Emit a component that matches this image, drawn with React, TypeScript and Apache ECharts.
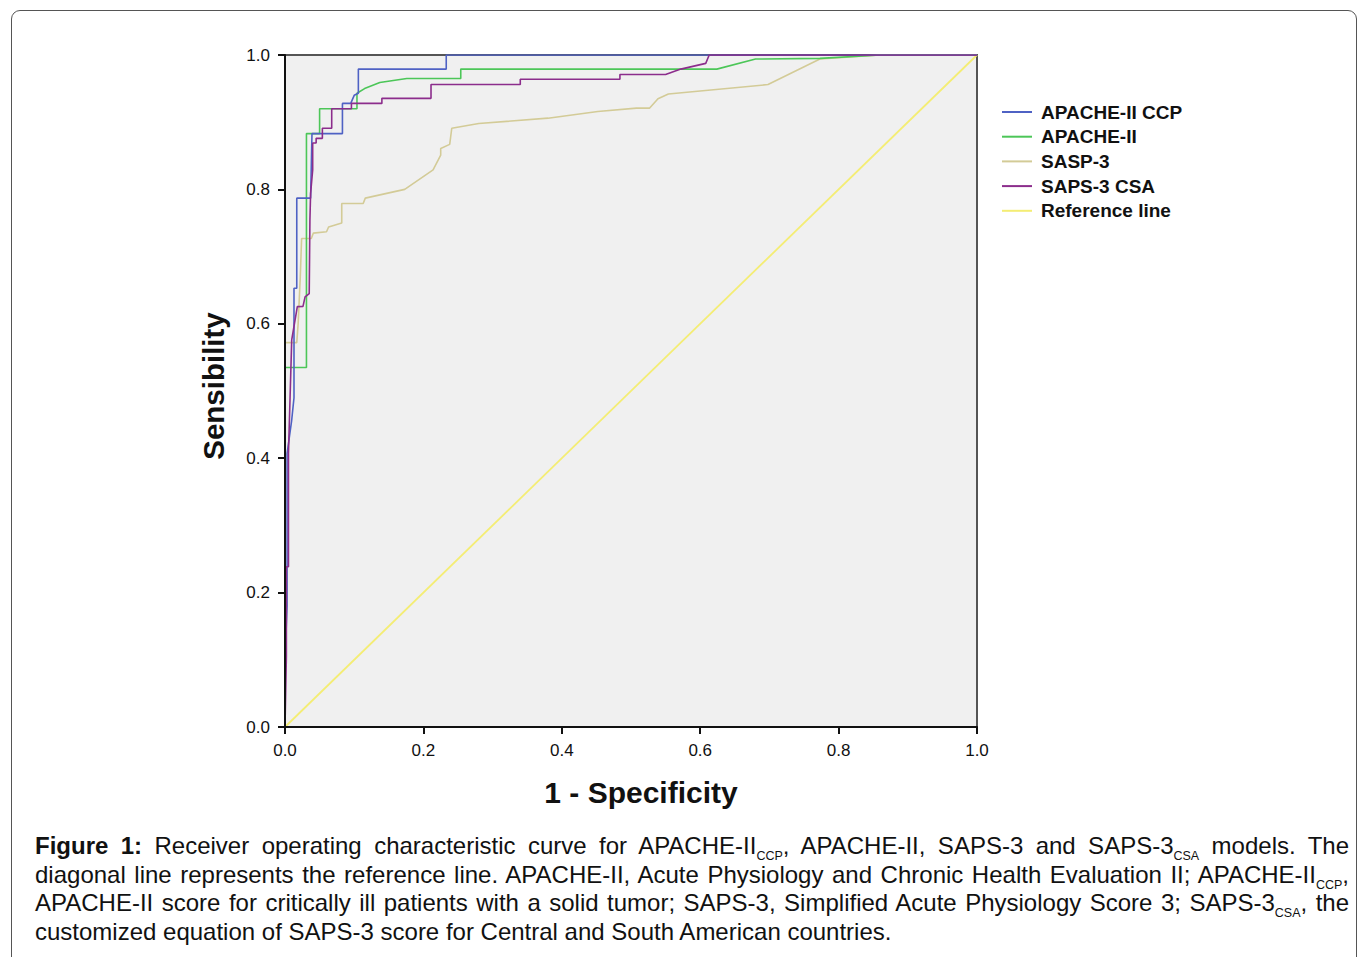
import React, { useEffect, useRef } from "react";
import * as echarts from "echarts";

const seriesNames = ["APACHE-II CCP", "APACHE-II", "SASP-3", "SAPS-3 CSA", "Reference line"];
const seriesColors = ["#4f62c4", "#4cc658", "#d3cb97", "#8c2d8c", "#f4ed74"];

const apacheCcpX = [0, 0, 0.003, 0.003, 0.0095, 0.013, 0.013, 0.017, 0.017, 0.037, 0.039, 0.083, 0.083, 0.095, 0.1, 0.106, 0.106, 0.233, 0.233, 1];
const apacheCcpY = [0, 0.1, 0.18, 0.407, 0.455, 0.49, 0.653, 0.653, 0.787, 0.787, 0.883, 0.883, 0.928, 0.928, 0.94, 0.943, 0.979, 0.979, 1, 1];

const apacheX = [0, 0, 0.031, 0.031, 0.05, 0.05, 0.104, 0.104, 0.115, 0.137, 0.176, 0.254, 0.254, 0.624, 0.68, 0.773, 0.86, 1];
const apacheY = [0, 0.535, 0.535, 0.883, 0.883, 0.92, 0.92, 0.943, 0.95, 0.959, 0.965, 0.965, 0.979, 0.979, 0.994, 0.995, 1, 1];

const saps3X = [0, 0, 0.017, 0.019, 0.022, 0.024, 0.038, 0.041, 0.06, 0.063, 0.082, 0.082, 0.113, 0.116, 0.173, 0.214, 0.225, 0.225, 0.238, 0.241, 0.28, 0.38, 0.452, 0.508, 0.527, 0.539, 0.554, 0.698, 0.773, 0.86, 1];
const saps3Y = [0, 0.572, 0.572, 0.6, 0.668, 0.727, 0.727, 0.735, 0.737, 0.744, 0.75, 0.779, 0.779, 0.787, 0.8, 0.829, 0.851, 0.861, 0.867, 0.891, 0.898, 0.906, 0.916, 0.921, 0.921, 0.935, 0.942, 0.956, 0.994, 1, 1];

const saps3CsaX = [0, 0.002, 0.002, 0.005, 0.005, 0.0097, 0.0178, 0.026, 0.029, 0.035, 0.036, 0.037, 0.04, 0.04, 0.045, 0.045, 0.054, 0.054, 0.0675, 0.0675, 0.096, 0.096, 0.14, 0.14, 0.211, 0.211, 0.34, 0.34, 0.484, 0.484, 0.55, 0.572, 0.608, 0.613, 1];
const saps3CsaY = [0, 0.105, 0.2385, 0.2385, 0.407, 0.576, 0.6255, 0.626, 0.64, 0.645, 0.754, 0.794, 0.829, 0.869, 0.869, 0.876, 0.876, 0.891, 0.891, 0.92, 0.92, 0.928, 0.928, 0.9355, 0.9355, 0.956, 0.956, 0.964, 0.964, 0.971, 0.971, 0.979, 0.9875, 1, 1];

const refX = [0, 1];
const refY = [0, 1];

const allX = [apacheCcpX, apacheX, saps3X, saps3CsaX, refX];
const allY = [apacheCcpY, apacheY, saps3Y, saps3CsaY, refY];

const FONT = "'Liberation Sans', Arial, Helvetica, sans-serif";

export default function App() {
  const ref = useRef<HTMLDivElement>(null);
  useEffect(() => {
    if (!ref.current) return;
    const chart = echarts.init(ref.current, undefined, { renderer: "svg" });
    const order = [4, 2, 1, 0, 3];
    const series = order.map((i) => ({
      name: seriesNames[i],
      type: "line",
      data: allX[i].map((x, k) => [x, allY[i][k]]),
      showSymbol: false,
      symbol: "none",
      color: seriesColors[i],
      lineStyle: { width: i === 4 ? 1.8 : 1.6, color: seriesColors[i] },
      z: 2 + order.indexOf(i),
    }));
    const axisCommon = {
      type: "value",
      min: 0,
      max: 1,
      interval: 0.2,
      z: 20,
      axisLine: { show: true, onZero: false, lineStyle: { color: "#111", width: 2 } },
      axisTick: { show: true, length: 7, lineStyle: { color: "#111", width: 2 } },
      splitLine: { show: false },
      axisLabel: {
        fontSize: 17,
        color: "#111",
        fontFamily: FONT,
        margin: 15,
        formatter: (v: number) => v.toFixed(1),
      },
    };
    chart.setOption({
      animation: false,
      textStyle: { fontFamily: FONT },
      grid: {
        left: 285,
        top: 55,
        width: 692,
        height: 672,
        show: true,
        backgroundColor: "#f0f0f0",
        borderColor: "#555",
        borderWidth: 2,
      },
      xAxis: { ...axisCommon },
      yAxis: { ...axisCommon },
      legend: {
        orient: "vertical",
        left: 997,
        top: 97.5,
        icon: "rect",
        itemWidth: 30,
        itemHeight: 2,
        itemGap: 5.7,
        data: seriesNames,
        textStyle: {
          fontSize: 19,
          fontWeight: "bold",
          color: "#111",
          fontFamily: FONT,
          lineHeight: 19,
          padding: [0, 0, 0, 4],
        },
      },
      graphic: [
        {
          type: "text",
          x: 213,
          y: 386,
          rotation: Math.PI / 2,
          style: {
            text: "Sensibility",
            fontSize: 29.5,
            fontWeight: "bold",
            fill: "#111",
            fontFamily: FONT,
            align: "center",
            verticalAlign: "middle",
          },
        },
        {
          type: "text",
          x: 641,
          y: 792,
          style: {
            text: "1 - Specificity",
            fontSize: 30,
            fontWeight: "bold",
            fill: "#111",
            fontFamily: FONT,
            align: "center",
            verticalAlign: "middle",
          },
        },
      ],
      series,
    });
    return () => chart.dispose();
  }, []);

  const subStyle: React.CSSProperties = {
    fontSize: 12.5,
    verticalAlign: -6,
    lineHeight: 0,
  };
  const lineStyle: React.CSSProperties = {
    textAlign: "justify",
    textAlignLast: "justify",
    whiteSpace: "nowrap",
    height: 28.5,
  };
  const lastLine: React.CSSProperties = { whiteSpace: "nowrap", height: 28.5 };

  return (
    <div
      style={{
        position: "fixed",
        left: 0,
        top: 0,
        width: 1359,
        height: 957,
        overflow: "hidden",
        background: "#fff",
      }}
    >
      <div
        style={{
          position: "absolute",
          left: 11,
          top: 10,
          width: 1346,
          height: 1000,
          border: "1.5px solid #555",
          borderRadius: 9,
          boxSizing: "border-box",
        }}
      />
      <div ref={ref} style={{ position: "absolute", left: 0, top: 0, width: 1359, height: 820 }} />
      <div
        style={{
          position: "absolute",
          left: 35,
          top: 832,
          width: 1314,
          fontFamily: FONT,
          fontSize: 24,
          lineHeight: "28.5px",
          color: "#111",
        }}
      >
        <div style={lineStyle}>
          <b>Figure 1:</b> Receiver operating characteristic curve for APACHE-II
          <span style={subStyle}>CCP</span>, APACHE-II, SAPS-3 and SAPS-3<span style={subStyle}>CSA</span> models. The
        </div>
        <div style={lineStyle}>
          diagonal line represents the reference line. APACHE-II, Acute Physiology and Chronic Health Evaluation II; APACHE-II
          <span style={subStyle}>CCP</span>,
        </div>
        <div style={lineStyle}>
          APACHE-II score for critically ill patients with a solid tumor; SAPS-3, Simplified Acute Physiology Score 3; SAPS-3
          <span style={subStyle}>CSA</span>, the
        </div>
        <div style={lastLine}>customized equation of SAPS-3 score for Central and South American countries.</div>
      </div>
    </div>
  );
}
